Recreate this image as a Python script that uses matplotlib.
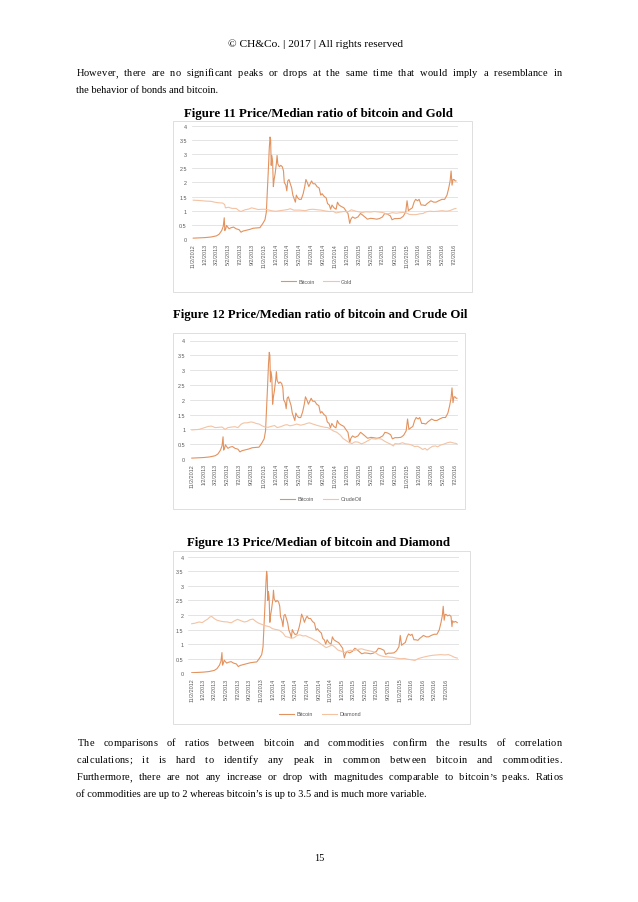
import matplotlib
matplotlib.use("Agg")
import matplotlib.pyplot as plt
import numpy as np
import pandas as pd
from matplotlib.patches import Rectangle

# ---------------- data ----------------
tick_labels = ["11/2/2012", "1/2/2013", "3/2/2013", "5/2/2013", "7/2/2013", "9/2/2013",
               "11/2/2013", "1/2/2014", "3/2/2014", "5/2/2014", "7/2/2014", "9/2/2014",
               "11/2/2014", "1/2/2015", "3/2/2015", "5/2/2015", "7/2/2015", "9/2/2015",
               "11/2/2015", "1/2/2016", "3/2/2016", "5/2/2016", "7/2/2016"]
y_labels = ["0", "0.5", "1", "1.5", "2", "2.5", "3", "3.5", "4"]

bitcoin = [("2012-11-02", 0.03), ("2012-12-01", 0.04), ("2013-01-02", 0.05), ("2013-02-01", 0.07),
    ("2013-03-01", 0.11), ("2013-03-15", 0.17), ("2013-03-28", 0.30), ("2013-04-05", 0.45),
    ("2013-04-10", 0.75), ("2013-04-13", 0.30), ("2013-04-17", 0.35), ("2013-04-22", 0.48),
    ("2013-04-28", 0.42), ("2013-05-05", 0.36), ("2013-05-15", 0.40), ("2013-05-28", 0.42),
    ("2013-06-10", 0.36), ("2013-06-25", 0.33), ("2013-07-05", 0.24), ("2013-07-15", 0.28),
    ("2013-08-01", 0.31), ("2013-08-20", 0.34), ("2013-09-05", 0.38), ("2013-09-25", 0.39),
    ("2013-10-10", 0.40), ("2013-10-25", 0.55), ("2013-11-05", 0.68), ("2013-11-12", 0.95),
    ("2013-11-18", 1.80), ("2013-11-22", 2.40), ("2013-11-27", 3.20), ("2013-12-01", 3.60),
    ("2013-12-04", 3.50), ("2013-12-07", 2.60), ("2013-12-10", 2.95), ("2013-12-14", 2.75),
    ("2013-12-18", 1.85), ("2013-12-22", 2.10), ("2013-12-27", 2.30), ("2014-01-03", 2.70),
    ("2014-01-06", 2.95), ("2014-01-10", 2.65), ("2014-01-18", 2.55), ("2014-01-25", 2.60),
    ("2014-02-02", 2.55), ("2014-02-08", 2.40), ("2014-02-12", 2.00), ("2014-02-20", 1.90),
    ("2014-02-25", 1.70), ("2014-03-02", 2.05), ("2014-03-08", 2.10), ("2014-03-15", 1.95),
    ("2014-03-22", 1.80), ("2014-03-28", 1.55), ("2014-04-05", 1.40), ("2014-04-10", 1.30),
    ("2014-04-15", 1.55), ("2014-04-22", 1.45), ("2014-04-30", 1.40), ("2014-05-10", 1.40),
    ("2014-05-20", 1.60), ("2014-05-28", 1.85), ("2014-06-03", 2.10), ("2014-06-10", 2.00),
    ("2014-06-18", 1.85), ("2014-06-25", 1.95), ("2014-07-02", 2.05), ("2014-07-10", 1.95),
    ("2014-07-20", 1.95), ("2014-07-30", 1.85), ("2014-08-10", 1.80), ("2014-08-18", 1.55),
    ("2014-08-25", 1.60), ("2014-09-05", 1.50), ("2014-09-15", 1.45), ("2014-09-22", 1.25),
    ("2014-10-01", 1.20), ("2014-10-08", 1.05), ("2014-10-15", 1.20), ("2014-10-25", 1.10),
    ("2014-11-05", 1.05), ("2014-11-12", 1.30), ("2014-11-20", 1.20), ("2014-12-01", 1.15),
    ("2014-12-15", 1.10), ("2014-12-25", 1.00), ("2015-01-05", 0.90), ("2015-01-14", 0.55),
    ("2015-01-20", 0.70), ("2015-01-28", 0.78), ("2015-02-10", 0.73), ("2015-02-25", 0.78),
    ("2015-03-10", 0.90), ("2015-03-20", 0.85), ("2015-04-01", 0.78), ("2015-04-15", 0.70),
    ("2015-05-01", 0.73), ("2015-05-15", 0.72), ("2015-06-01", 0.70), ("2015-06-15", 0.72),
    ("2015-07-01", 0.78), ("2015-07-12", 0.90), ("2015-07-25", 0.88), ("2015-08-10", 0.82),
    ("2015-08-19", 0.68), ("2015-09-01", 0.72), ("2015-09-15", 0.72), ("2015-10-01", 0.73),
    ("2015-10-15", 0.80), ("2015-10-28", 0.95), ("2015-11-04", 1.35), ("2015-11-11", 1.00),
    ("2015-11-20", 1.05), ("2015-12-01", 1.10), ("2015-12-10", 1.30), ("2015-12-18", 1.40),
    ("2015-12-28", 1.35), ("2016-01-05", 1.40), ("2016-01-15", 1.20), ("2016-01-25", 1.20),
    ("2016-02-05", 1.18), ("2016-02-15", 1.25), ("2016-02-25", 1.30), ("2016-03-05", 1.35),
    ("2016-03-20", 1.30), ("2016-04-01", 1.30), ("2016-04-15", 1.35), ("2016-05-01", 1.40),
    ("2016-05-15", 1.40), ("2016-05-27", 1.55), ("2016-06-05", 1.80), ("2016-06-12", 2.05),
    ("2016-06-17", 2.40), ("2016-06-22", 1.90), ("2016-06-27", 2.10), ("2016-07-02", 2.10),
    ("2016-07-08", 2.05), ("2016-07-12", 2.05)]

gold = [("2012-11-02", 1.37), ("2012-12-01", 1.36), ("2013-01-02", 1.34), ("2013-02-01", 1.33),
    ("2013-02-20", 1.30), ("2013-03-10", 1.28), ("2013-04-01", 1.27), ("2013-04-12", 1.22),
    ("2013-04-16", 1.10), ("2013-05-01", 1.12), ("2013-05-20", 1.08), ("2013-06-10", 1.08),
    ("2013-06-25", 1.00), ("2013-07-05", 0.97), ("2013-07-25", 1.03), ("2013-08-15", 1.06),
    ("2013-08-28", 1.10), ("2013-09-15", 1.07), ("2013-10-01", 1.04), ("2013-10-20", 1.05),
    ("2013-11-05", 1.05), ("2013-11-25", 1.02), ("2013-12-15", 0.99), ("2014-01-01", 0.98),
    ("2014-01-20", 1.00), ("2014-02-10", 1.02), ("2014-03-01", 1.04), ("2014-03-15", 1.07),
    ("2014-04-01", 1.02), ("2014-05-01", 1.02), ("2014-06-01", 1.00), ("2014-06-20", 1.04),
    ("2014-07-10", 1.05), ("2014-08-01", 1.03), ("2014-08-20", 1.02), ("2014-09-10", 0.99),
    ("2014-10-01", 0.97), ("2014-10-20", 0.98), ("2014-11-05", 0.92), ("2014-11-25", 0.95),
    ("2014-12-15", 0.97), ("2015-01-05", 0.96), ("2015-01-22", 1.03), ("2015-02-10", 0.99),
    ("2015-03-01", 0.96), ("2015-03-18", 0.93), ("2015-04-05", 0.96), ("2015-05-01", 0.95),
    ("2015-05-20", 0.97), ("2015-06-15", 0.95), ("2015-07-05", 0.93), ("2015-07-25", 0.88),
    ("2015-08-20", 0.93), ("2015-09-10", 0.91), ("2015-10-10", 0.94), ("2015-10-28", 0.93),
    ("2015-11-15", 0.87), ("2015-12-01", 0.86), ("2015-12-20", 0.86), ("2016-01-10", 0.89),
    ("2016-01-25", 0.90), ("2016-02-10", 0.96), ("2016-03-01", 0.98), ("2016-03-20", 0.97),
    ("2016-04-10", 0.98), ("2016-05-01", 1.00), ("2016-05-25", 0.98), ("2016-06-10", 1.00),
    ("2016-06-24", 1.04), ("2016-07-05", 1.07), ("2016-07-12", 1.08)]

crude_oil = [("2012-11-02", 0.98), ("2012-11-20", 0.99), ("2012-12-10", 1.00), ("2013-01-02", 1.05),
    ("2013-01-25", 1.10), ("2013-02-10", 1.11), ("2013-03-01", 1.06), ("2013-03-20", 1.07),
    ("2013-04-05", 1.08), ("2013-04-20", 1.00), ("2013-05-05", 1.06), ("2013-05-25", 1.08),
    ("2013-06-10", 1.09), ("2013-06-25", 1.06), ("2013-07-10", 1.17), ("2013-07-25", 1.22),
    ("2013-08-10", 1.22), ("2013-08-28", 1.25), ("2013-09-10", 1.24), ("2013-09-25", 1.20),
    ("2013-10-10", 1.18), ("2013-10-25", 1.12), ("2013-11-10", 1.08), ("2013-11-25", 1.07),
    ("2013-12-10", 1.10), ("2013-12-28", 1.13), ("2014-01-10", 1.06), ("2014-01-28", 1.09),
    ("2014-02-15", 1.14), ("2014-03-01", 1.16), ("2014-03-15", 1.12), ("2014-04-01", 1.14),
    ("2014-04-20", 1.18), ("2014-05-10", 1.14), ("2014-05-28", 1.17), ("2014-06-15", 1.21),
    ("2014-06-25", 1.22), ("2014-07-10", 1.18), ("2014-07-30", 1.14), ("2014-08-20", 1.10),
    ("2014-09-10", 1.07), ("2014-09-25", 1.06), ("2014-10-10", 1.00), ("2014-10-25", 0.94),
    ("2014-11-10", 0.90), ("2014-11-28", 0.80), ("2014-12-10", 0.70), ("2014-12-25", 0.63),
    ("2015-01-10", 0.56), ("2015-01-25", 0.52), ("2015-02-10", 0.58), ("2015-02-25", 0.57),
    ("2015-03-15", 0.51), ("2015-04-01", 0.56), ("2015-04-20", 0.63), ("2015-05-05", 0.69),
    ("2015-05-25", 0.67), ("2015-06-10", 0.69), ("2015-06-25", 0.67), ("2015-07-10", 0.60),
    ("2015-07-25", 0.55), ("2015-08-10", 0.50), ("2015-08-24", 0.44), ("2015-09-01", 0.52),
    ("2015-09-20", 0.51), ("2015-10-10", 0.55), ("2015-10-25", 0.51), ("2015-11-10", 0.50),
    ("2015-11-25", 0.47), ("2015-12-10", 0.42), ("2015-12-25", 0.43), ("2016-01-10", 0.37),
    ("2016-01-20", 0.32), ("2016-02-01", 0.36), ("2016-02-11", 0.30), ("2016-02-25", 0.37),
    ("2016-03-10", 0.43), ("2016-03-25", 0.44), ("2016-04-05", 0.41), ("2016-04-20", 0.47),
    ("2016-05-05", 0.50), ("2016-05-25", 0.55), ("2016-06-08", 0.57), ("2016-06-25", 0.54),
    ("2016-07-05", 0.53), ("2016-07-12", 0.51)]

bitcoin_fig13 = [("2012-11-02", 0.02), ("2012-12-01", 0.03), ("2013-01-02", 0.04), ("2013-02-01", 0.06),
    ("2013-03-01", 0.10), ("2013-03-15", 0.16), ("2013-03-28", 0.28), ("2013-04-05", 0.42),
    ("2013-04-10", 0.71), ("2013-04-13", 0.28), ("2013-04-17", 0.34), ("2013-04-22", 0.45),
    ("2013-04-28", 0.40), ("2013-05-05", 0.35), ("2013-05-15", 0.38), ("2013-05-28", 0.40),
    ("2013-06-10", 0.35), ("2013-06-25", 0.32), ("2013-07-05", 0.23), ("2013-07-15", 0.27),
    ("2013-08-01", 0.30), ("2013-08-20", 0.33), ("2013-09-05", 0.36), ("2013-09-25", 0.38),
    ("2013-10-10", 0.39), ("2013-10-25", 0.52), ("2013-11-05", 0.64), ("2013-11-12", 0.90),
    ("2013-11-18", 1.72), ("2013-11-22", 2.30), ("2013-11-27", 3.05), ("2013-12-01", 3.50),
    ("2013-12-04", 3.35), ("2013-12-07", 2.50), ("2013-12-10", 2.80), ("2013-12-14", 2.62),
    ("2013-12-18", 1.75), ("2013-12-22", 2.00), ("2013-12-27", 2.20), ("2014-01-03", 2.55),
    ("2014-01-06", 2.85), ("2014-01-10", 2.55), ("2014-01-18", 2.45), ("2014-01-25", 2.50),
    ("2014-02-02", 2.45), ("2014-02-08", 2.30), ("2014-02-12", 1.95), ("2014-02-20", 1.80),
    ("2014-02-25", 1.60), ("2014-03-02", 1.98), ("2014-03-08", 2.02), ("2014-03-15", 1.88),
    ("2014-03-22", 1.72), ("2014-03-28", 1.48), ("2014-04-05", 1.35), ("2014-04-10", 1.22),
    ("2014-04-15", 1.50), ("2014-04-22", 1.40), ("2014-04-30", 1.33), ("2014-05-10", 1.35),
    ("2014-05-20", 1.55), ("2014-05-28", 1.78), ("2014-06-03", 2.03), ("2014-06-10", 1.92),
    ("2014-06-18", 1.75), ("2014-06-25", 1.88), ("2014-07-02", 1.96), ("2014-07-10", 1.88),
    ("2014-07-20", 1.88), ("2014-07-30", 1.78), ("2014-08-10", 1.72), ("2014-08-18", 1.48),
    ("2014-08-25", 1.53), ("2014-09-05", 1.44), ("2014-09-15", 1.38), ("2014-09-22", 1.20),
    ("2014-10-01", 1.14), ("2014-10-08", 1.00), ("2014-10-15", 1.15), ("2014-10-25", 1.05),
    ("2014-11-05", 1.00), ("2014-11-12", 1.25), ("2014-11-20", 1.15), ("2014-12-01", 1.10),
    ("2014-12-15", 1.05), ("2014-12-25", 0.96), ("2015-01-05", 0.86), ("2015-01-14", 0.53),
    ("2015-01-20", 0.67), ("2015-01-28", 0.75), ("2015-02-10", 0.70), ("2015-02-25", 0.75),
    ("2015-03-10", 0.86), ("2015-03-20", 0.82), ("2015-04-01", 0.75), ("2015-04-15", 0.67),
    ("2015-05-01", 0.70), ("2015-05-15", 0.69), ("2015-06-01", 0.67), ("2015-06-15", 0.69),
    ("2015-07-01", 0.75), ("2015-07-12", 0.86), ("2015-07-25", 0.84), ("2015-08-10", 0.79),
    ("2015-08-19", 0.65), ("2015-09-01", 0.69), ("2015-09-15", 0.69), ("2015-10-01", 0.70),
    ("2015-10-15", 0.77), ("2015-10-28", 0.91), ("2015-11-04", 1.30), ("2015-11-11", 0.96),
    ("2015-11-20", 1.01), ("2015-12-01", 1.06), ("2015-12-10", 1.25), ("2015-12-18", 1.35),
    ("2015-12-28", 1.30), ("2016-01-05", 1.34), ("2016-01-15", 1.15), ("2016-01-25", 1.15),
    ("2016-02-05", 1.13), ("2016-02-15", 1.20), ("2016-02-25", 1.25), ("2016-03-05", 1.30),
    ("2016-03-20", 1.25), ("2016-04-01", 1.25), ("2016-04-15", 1.30), ("2016-05-01", 1.34),
    ("2016-05-15", 1.34), ("2016-05-27", 1.49), ("2016-06-05", 1.73), ("2016-06-12", 1.97),
    ("2016-06-17", 2.30), ("2016-06-22", 1.82), ("2016-06-27", 2.02), ("2016-07-02", 2.02),
    ("2016-07-10", 1.97), ("2016-07-20", 2.00), ("2016-07-28", 1.95), ("2016-08-02", 1.60),
    ("2016-08-05", 1.80), ("2016-08-12", 1.75), ("2016-08-20", 1.78), ("2016-08-30", 1.74)]

diamond = [("2012-11-02", 1.70), ("2012-11-20", 1.72), ("2012-12-10", 1.76), ("2012-12-28", 1.74),
    ("2013-01-10", 1.80), ("2013-01-25", 1.86), ("2013-02-05", 1.93), ("2013-02-15", 1.95),
    ("2013-02-28", 1.88), ("2013-03-15", 1.82), ("2013-04-01", 1.79), ("2013-04-20", 1.77),
    ("2013-05-10", 1.76), ("2013-05-28", 1.73), ("2013-06-15", 1.80), ("2013-07-01", 1.85),
    ("2013-07-20", 1.80), ("2013-08-05", 1.76), ("2013-08-20", 1.78), ("2013-09-05", 1.84),
    ("2013-09-20", 1.86), ("2013-10-05", 1.78), ("2013-10-20", 1.72), ("2013-11-05", 1.68),
    ("2013-11-25", 1.63), ("2013-12-15", 1.60), ("2014-01-01", 1.53), ("2014-01-20", 1.50),
    ("2014-02-05", 1.48), ("2014-02-25", 1.38), ("2014-03-10", 1.26), ("2014-03-25", 1.24),
    ("2014-04-10", 1.20), ("2014-04-25", 1.22), ("2014-05-10", 1.30), ("2014-05-25", 1.32),
    ("2014-06-10", 1.28), ("2014-06-25", 1.29), ("2014-07-10", 1.24), ("2014-07-25", 1.20),
    ("2014-08-10", 1.14), ("2014-08-25", 1.10), ("2014-09-10", 1.02), ("2014-09-25", 0.95),
    ("2014-10-10", 0.88), ("2014-10-25", 0.92), ("2014-11-10", 0.97), ("2014-11-25", 0.90),
    ("2014-12-10", 0.80), ("2014-12-28", 0.76), ("2015-01-15", 0.71), ("2015-01-30", 0.76),
    ("2015-02-15", 0.79), ("2015-03-05", 0.78), ("2015-03-25", 0.82), ("2015-04-15", 0.84),
    ("2015-05-05", 0.80), ("2015-05-25", 0.77), ("2015-06-10", 0.75), ("2015-06-25", 0.72),
    ("2015-07-10", 0.64), ("2015-07-25", 0.60), ("2015-08-15", 0.57), ("2015-09-05", 0.56),
    ("2015-09-25", 0.55), ("2015-10-15", 0.52), ("2015-11-05", 0.50), ("2015-11-25", 0.51),
    ("2015-12-15", 0.48), ("2016-01-05", 0.46), ("2016-01-20", 0.44), ("2016-02-05", 0.50),
    ("2016-02-25", 0.54), ("2016-03-15", 0.57), ("2016-04-05", 0.60), ("2016-04-25", 0.62),
    ("2016-05-15", 0.63), ("2016-06-05", 0.64), ("2016-06-25", 0.63), ("2016-07-15", 0.64),
    ("2016-07-30", 0.60), ("2016-08-15", 0.55), ("2016-08-30", 0.52)]

header = "\u00a9 CH&Co. | 2017 | All rights reserved"
para1 = ["However, there are no significant peaks or drops at the same time that would imply a resemblance in",
         "the behavior of bonds and bitcoin."]
para2 = ["The comparisons of ratios between bitcoin and commodities confirm the results of correlation",
         "calculations; it is hard to identify any peak in common between bitcoin and commodities.",
         "Furthermore, there are not any increase or drop with magnitudes comparable to bitcoin\u2019s peaks. Ratios",
         "of commodities are up to 2 whereas bitcoin\u2019s is up to 3.5 and is much more variable."]
titles = ["Figure 11 Price/Median ratio of bitcoin and Gold",
          "Figure 12 Price/Median ratio of bitcoin and Crude Oil",
          "Figure 13 Price/Median of bitcoin and Diamond"]
page_number = "15"

# ---------------- layout ----------------
W, H = 638, 903
fig = plt.figure(figsize=(W / 100, H / 100), dpi=100)
fig.patch.set_facecolor("white")
renderer = fig.canvas.get_renderer()
SERIF = "Liberation Serif"
SANS = "Liberation Sans"
TEXT_COLOR = "black"

def fx(x):
    return x / W

def fy(y):
    return 1 - y / H

_cache = {}
def text_width(s, size, weight="normal"):
    key = (s, size, weight)
    if key not in _cache:
        t = fig.text(0, 0, s, fontsize=size, family=SERIF, weight=weight)
        _cache[key] = t.get_window_extent(renderer).width
        t.remove()
    return _cache[key]

def fit_size(s, target, weight="normal"):
    return 10 * target / text_width(s, 10, weight)

body_size = 1.04 * 0.5 * (fit_size(para1[1], 134) + fit_size(para2[3], 346))

def justify(line, x0, x1, ybase, size, letter_share=0.15):
    words = line.split()
    wwidths = [text_width(w, size) for w in words]
    space = text_width("a a", size) - text_width("aa", size)
    natural = sum(wwidths) + space * (len(words) - 1)
    extra = (x1 - x0) - natural
    n_letter_gaps = sum(len(w) - 1 for w in words)
    c = extra * letter_share / n_letter_gaps
    gap = space + extra * (1 - letter_share) / (len(words) - 1)
    x = x0
    for w, wd in zip(words, wwidths):
        for i, ch in enumerate(w):
            off = text_width(w[:i], size) if i > 0 else 0.0
            fig.text(fx(x + off + i * c), fy(ybase), ch, fontsize=size, family=SERIF,
                     va="baseline", ha="left", color=TEXT_COLOR)
        x += wd + (len(w) - 1) * c + gap

def plain(line, x0, ybase, size, ha="left", weight="normal"):
    fig.text(fx(x0), fy(ybase), line, fontsize=size, family=SERIF, va="baseline", ha=ha,
             weight=weight, color=TEXT_COLOR)

# header
plain(header, 316, 47, fit_size(header, 175), ha="center")
# paragraph 1
justify(para1[0], 76.5, 561.5, 76.5, body_size)
plain(para1[1], 76.5, 93, body_size)
# paragraph 2
justify(para2[0], 77.5, 561.5, 746.5, body_size)
justify(para2[1], 76.5, 561.5, 763, body_size)
justify(para2[2], 76.5, 562.5, 780.5, body_size)
plain(para2[3], 76.5, 797, body_size)
plain(page_number, 319, 861, body_size, ha="center")

# titles
title_specs = [(titles[0], 318, 116.5, 270), (titles[1], 320.5, 318.5, 297), (titles[2], 318.5, 546.5, 263)]
for s, xc, yb, wt in title_specs:
    plain(s, xc, yb, fit_size(s, wt, "bold"), ha="center", weight="bold")

BTC_COLOR = "#E3925E"
COM_COLOR = "#F3C3A4"
tick_dates = pd.to_datetime(tick_labels, format="%m/%d/%Y")

def draw_chart(frame, plot, xlim, series, legend_xy):
    fl, ft, fr, fb = frame
    fig.add_artist(Rectangle((fx(fl), fy(fb)), (fr - fl) / W, (fb - ft) / H,
                             transform=fig.transFigure, facecolor="white",
                             edgecolor="#d9d9d9", lw=0.6, zorder=0))
    l, t, r, b = plot
    ax = fig.add_axes([fx(l), fy(b), (r - l) / W, (b - t) / H])
    ax.set_facecolor("none")
    handles = []
    for name, data, color in series:
        d = pd.to_datetime([p[0] for p in data])
        v = [p[1] for p in data]
        h, = ax.plot(d, v, color=color, lw=0.8, label=name, solid_joinstyle="round")
        handles.append(h)
    ax.set_ylim(0, 4)
    ax.set_yticks(np.arange(len(y_labels)) * 0.5)
    ax.set_yticklabels(y_labels)
    ax.set_xlim(pd.Timestamp(xlim[0]), pd.Timestamp(xlim[1]))
    ax.set_xticks(tick_dates)
    ax.set_xticklabels(tick_labels, rotation=90)
    ax.grid(axis="y", color="#d9d9d9", lw=0.5)
    ax.set_axisbelow(True)
    for s in ax.spines.values():
        s.set_visible(False)
    ax.tick_params(axis="both", length=0, labelsize=3.9, colors="#595959")
    ax.tick_params(axis="y", pad=3.5)
    ax.tick_params(axis="x", pad=3)
    for lab in ax.get_xticklabels() + ax.get_yticklabels():
        lab.set_family(SANS)
    leg = fig.legend(handles, [h.get_label() for h in handles], loc="center",
                     bbox_to_anchor=(fx(legend_xy[0]), fy(legend_xy[1])), ncol=2,
                     frameon=False, handlelength=2.8, columnspacing=1.6,
                     handletextpad=0.45, prop={"family": SANS, "size": 3.9})
    for txt in leg.get_texts():
        txt.set_color("#595959")
    return ax

draw_chart((173, 122, 472, 293), (191.7, 126.7, 458.3, 240), ("2012-10-25", "2016-07-24"),
           [("Bitcoin", bitcoin, BTC_COLOR), ("Gold", gold, COM_COLOR)], (316.5, 282.3))
draw_chart((173, 334, 465, 510), (190, 341.5, 458.3, 460), ("2012-10-24", "2016-07-19"),
           [("Bitcoin", bitcoin, BTC_COLOR), ("CrudeOil", crude_oil, COM_COLOR)], (321, 500))
draw_chart((173, 552, 470, 725), (188.3, 557.7, 459, 674.3), ("2012-10-15", "2016-09-08"),
           [("Bitcoin", bitcoin_fig13, BTC_COLOR), ("Diamond", diamond, COM_COLOR)], (320, 715))

fig.savefig("out.png", dpi=100, facecolor="white")
